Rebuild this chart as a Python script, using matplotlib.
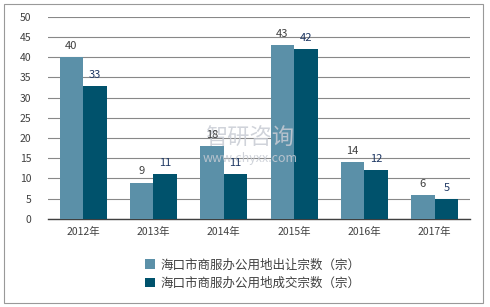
import matplotlib
matplotlib.use("Agg")
import matplotlib.pyplot as plt
import numpy as np
from matplotlib.patches import Rectangle

plt.rcParams['font.family'] = ['Noto Sans CJK SC', 'DejaVu Sans']

years = ["2012年", "2013年", "2014年", "2015年", "2016年", "2017年"]
s1_name = "海口市商服办公用地出让宗数（宗）"
s2_name = "海口市商服办公用地成交宗数（宗）"
s1 = [40, 9, 18, 43, 14, 6]
s2 = [33, 11, 11, 42, 12, 5]

c1 = "#5b90a8"
c2 = "#00526c"

fig = plt.figure(figsize=(4.9, 3.07), dpi=100)
ax = fig.add_axes([0.098, 0.287, 0.861, 0.658])

x = np.arange(len(years))
w = 0.335
b1 = ax.bar(x - w/2, s1, w, color=c1, zorder=3)
b2 = ax.bar(x + w/2, s2, w, color=c2, zorder=3)

for xi, v in zip(x - w/2, s1):
    ax.text(xi, v + 1.5, str(v), ha='center', va='bottom', fontsize=8, color='#404040', zorder=6)
for xi, v in zip(x + w/2, s2):
    ax.text(xi, v + 1.5, str(v), ha='center', va='bottom', fontsize=8, color='#1f3864', zorder=6)

ax.set_xlim(-0.5, len(years) - 0.5)
ax.set_ylim(0, 50)
ax.set_yticks(range(0, 51, 5))
ax.set_xticks(x)
ax.set_xticklabels(years)
ax.tick_params(axis='both', length=0, labelsize=7.5, colors='#404040')
ax.tick_params(axis='x', pad=6)
ax.tick_params(axis='y', pad=12)
ax.grid(axis='y', color='#888888', linewidth=0.8, zorder=0)
for s in ['top', 'right', 'left']:
    ax.spines[s].set_visible(False)
ax.spines['bottom'].set_color('#404040')
ax.spines['bottom'].set_linewidth(1.0)

leg = fig.legend([b1, b2], [s1_name, s2_name], loc='upper left',
                 bbox_to_anchor=(0.285, 0.175), frameon=False, fontsize=9,
                 handlelength=0.8, handleheight=0.8, handletextpad=0.5,
                 labelspacing=0.45, borderaxespad=0)
for t in leg.get_texts():
    t.set_color('#404040')

# watermark (above bars, below value labels)
ax.text(0.51, 0.548, "智研咨询", fontsize=16, color='#c8ccd4', ha='center', va='center',
        zorder=4, transform=fig.transFigure, alpha=0.85)
ax.text(0.51, 0.485, "www.chyxx.com", fontsize=9, color='#c8ccd4', ha='center', va='center',
        zorder=4, transform=fig.transFigure, alpha=0.85)

fig.patches.append(Rectangle((4/490, 4/307), 479/490, 299/307, transform=fig.transFigure,
                             fill=False, edgecolor='#999999', linewidth=0.8))

fig.savefig("out.png", dpi=100)
